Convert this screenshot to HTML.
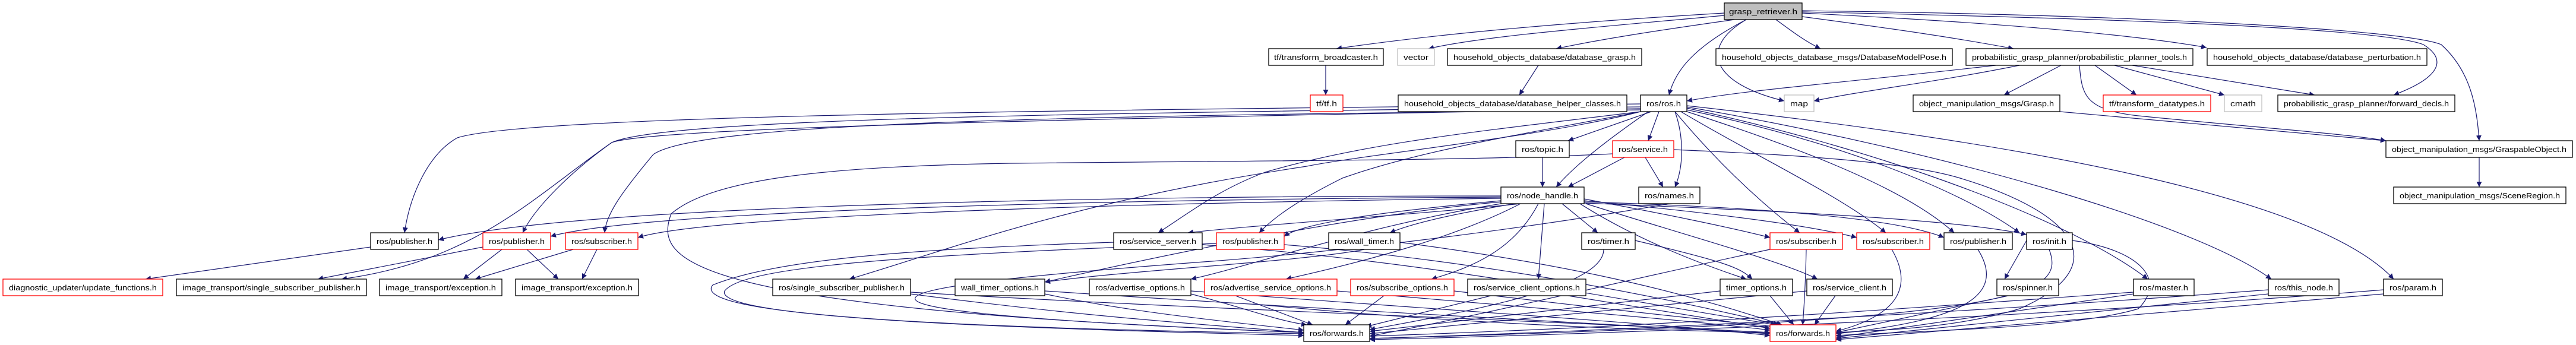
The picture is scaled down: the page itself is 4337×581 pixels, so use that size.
<!DOCTYPE html>
<html><head><meta charset="utf-8"><style>
html,body{margin:0;padding:0;background:#fff;width:4337px;height:581px;overflow:hidden}
svg{display:block}
text{font-family:"Liberation Sans","DejaVu Sans",sans-serif;font-size:13px;fill:#000}
.e{fill:none;stroke:#191970;stroke-width:1.2}
.n{fill:#fff;stroke:#000;stroke-width:1.3}
.r{fill:#fff;stroke:#ff0000;stroke-width:1.3}
.g{fill:#fff;stroke:#bfbfbf;stroke-width:1.3}
</style></head><body>
<svg width="4337" height="581" viewBox="0 0 4337 581" xmlns="http://www.w3.org/2000/svg">
<defs><marker id="a" viewBox="0 0 10 10" refX="10" refY="5" markerWidth="9" markerHeight="9" markerUnits="userSpaceOnUse" orient="auto"><path d="M0,0 L10,5 L0,10 z" fill="#191970"/></marker></defs>
<g class="e" marker-end="url(#a)">
<!-- grasp_retriever -->
<path d="M2903,22 C2600,40 2400,60 2250,82"/>
<path d="M2903,26 C2700,45 2500,60 2405,82"/>
<path d="M2920,33 C2800,50 2700,65 2620,82"/>
<path d="M2940,33 C2850,80 2820,120 2810,160"/>
<path d="M2940,33 C2860,80 2880,140 3004,170"/>
<path d="M2990,33 C3020,55 3040,70 3065,82"/>
<path d="M3034,28 C3200,50 3300,65 3390,82"/>
<path d="M3034,22 C3400,40 3600,60 3715,80"/>
<path d="M3034,20 C3500,30 4000,45 4080,75 C4120,100 4110,130 4030,160"/>
<path d="M3034,18 C3600,25 4050,50 4110,75 C4160,120 4170,180 4174,237"/>
<path d="M2232,110 L2232,160"/>
<path d="M2590,110 L2558,160"/>
<!-- planner tools -->
<path d="M3360,110 C3100,140 2950,150 2840,170"/>
<path d="M3400,110 C3250,140 3150,150 3054,170"/>
<path d="M3470,110 L3374,160"/>
<path d="M3527,110 L3597,160"/>
<path d="M3560,110 L3745,160"/>
<path d="M3590,110 L3897,160"/>
<path d="M3501,110 C3505,160 3510,185 3600,195 C3800,215 3950,225 4017,237"/>
<path d="M3468,188 C3700,210 3900,225 4017,237"/>
<path d="M4174,265 L4174,315"/>
<!-- ros/ros.h -->
<path d="M2762,175 C2000,185 900,190 770,232 C720,260 690,330 681,392"/>
<path d="M2762,180 C1800,190 1120,200 1030,240 C960,290 900,350 880,392"/>
<path d="M2762,185 C1800,195 1180,205 1100,260 C1050,320 1020,360 1018,392"/>
<path d="M2762,183 C1800,200 1100,215 1030,240 C900,330 800,440 575,470"/>
<path d="M2780,188 L2640,237"/>
<path d="M2793,188 L2775,237"/>
<path d="M2775,188 C2700,240 2650,280 2620,315"/>
<path d="M2820,188 C2835,230 2835,280 2820,315"/>
<path d="M2762,188 C2500,220 2300,240 2130,290 C2050,320 2000,360 1950,392"/>
<path d="M2762,188 C2600,220 2400,250 2260,300 C2200,330 2150,360 2120,392"/>
<path d="M2762,188 C2600,230 2300,260 2200,280 C1800,340 1600,420 1430,470"/>
<path d="M2820,188 C2880,260 2950,330 3030,392"/>
<path d="M2830,188 C2950,260 3100,330 3175,392"/>
<path d="M2840,188 C3000,240 3200,310 3290,392"/>
<path d="M2840,185 C3100,240 3300,320 3400,392"/>
<path d="M2840,182 C3200,260 3500,380 3616,470"/>
<path d="M2840,180 C3300,260 3700,380 3824,470"/>
<path d="M2840,178 C3400,240 3900,330 4030,470"/>
<!-- topic / service -->
<path d="M2597,265 L2597,315"/>
<path d="M2735,265 L2640,315"/>
<path d="M2770,265 L2800,315"/>
<path d="M2715,259 C2500,270 2200,270 1700,275 C1400,280 1200,300 1130,360 C1100,440 1150,520 2195,560"/>
<path d="M2818,252 C3000,260 3200,270 3300,300 C3500,360 3560,450 3400,520 C3300,550 3200,555 3091,560"/>
<!-- node_handle -->
<path d="M2527,330 C2000,330 1000,340 738,404"/>
<path d="M2527,332 C2000,335 1100,350 927,398"/>
<path d="M2527,334 C2000,340 1200,360 1074,400"/>
<path d="M2560,343 C2400,360 2100,380 2000,392"/>
<path d="M2527,338 C2400,350 2200,370 2162,398"/>
<path d="M2550,343 C2450,360 2380,375 2340,392"/>
<path d="M2630,343 L2690,392"/>
<path d="M2667,335 C2800,360 2900,380 2980,400"/>
<path d="M2667,338 C2900,360 3050,380 3126,400"/>
<path d="M2667,340 C3000,350 3200,370 3273,400"/>
<path d="M2667,342 C3000,355 3300,370 3412,395"/>
<path d="M2527,340 C2300,360 2000,420 1759,475"/>
<path d="M2527,343 C2300,380 2100,450 2005,470"/>
<path d="M2560,343 C2450,400 2300,440 2165,470"/>
<path d="M2590,343 C2550,420 2480,450 2410,470"/>
<path d="M2600,343 L2590,470"/>
<path d="M2660,343 C2750,400 2850,440 2940,470"/>
<path d="M2670,343 C2850,400 3000,440 3060,470"/>
<path d="M2810,343 C2600,380 2300,420 2040,440 C1500,480 1200,520 2195,560"/>
<!-- row6 children -->
<path d="M624,416 L245,470"/>
<path d="M813,416 L535,470"/>
<path d="M845,420 L780,470"/>
<path d="M887,420 L940,470"/>
<path d="M965,420 L800,470"/>
<path d="M1005,420 L980,470"/>
<path d="M2297,420 C2200,440 1900,455 1759,475"/>
<path d="M2700,420 C2700,480 2500,520 2306,555"/>
<path d="M2753,405 C2900,440 2930,450 2950,470"/>
<path d="M3412,405 L3375,470"/>
<!-- to forwards.h (black) -->
<path d="M1875,408 C1500,420 1300,440 1200,480 C1150,540 1800,555 2195,562"/>
<path d="M2048,410 C1500,430 1250,450 1220,490 C1200,540 1800,555 2195,565"/>
<path d="M1533,495 C1800,530 2000,545 2195,560"/>
<path d="M1759,495 C1900,525 2050,540 2195,556"/>
<path d="M2005,495 C2100,520 2150,540 2200,547"/>
<path d="M2080,498 L2210,547"/>
<path d="M2330,498 L2265,547"/>
<path d="M2510,498 L2300,550"/>
<path d="M2896,490 L2306,558"/>
<path d="M3042,490 L2306,562"/>
<path d="M3592,492 C3200,520 2800,550 2306,566"/>
<path d="M3819,488 C3400,520 2800,555 2306,570"/>
<path d="M4013,488 C3500,530 2800,560 2306,572"/>
<path d="M2980,420 C2700,480 2500,530 2306,566"/>
<path d="M3450,420 C3480,500 3400,540 2306,570"/>
<!-- to forwards.h (red) -->
<path d="M2024,412 C2400,440 2700,500 2990,547"/>
<path d="M2162,412 C2500,440 2800,500 2995,547"/>
<path d="M1533,492 C2000,520 2600,540 2980,560"/>
<path d="M1759,490 C2200,520 2700,545 2980,562"/>
<path d="M2005,490 C2400,520 2800,545 2980,565"/>
<path d="M2251,490 C2600,520 2850,540 2980,556"/>
<path d="M2448,490 C2700,520 2880,540 2990,550"/>
<path d="M2640,498 L2980,553"/>
<path d="M2357,408 C2600,440 2800,480 3000,547"/>
<path d="M2980,498 L3020,547"/>
<path d="M3090,498 L3055,547"/>
<path d="M3185,420 C3220,480 3200,530 3091,558"/>
<path d="M3330,420 C3380,500 3300,540 3091,562"/>
<path d="M3489,405 C3600,420 3650,470 3600,520 C3500,550 3300,555 3091,565"/>
<path d="M3592,495 L3091,568"/>
<path d="M3819,495 L3091,570"/>
<path d="M4013,495 L3091,572"/>
<path d="M3466,480 L3091,560"/>
<path d="M3041,420 C3040,470 3038,510 3035,547"/>
<path d="M2110,512 C2400,540 2700,555 2980,560"/>
</g>
<!-- nodes -->
<g>
<rect x="2903" y="5" width="131" height="28" fill="#bfbfbf" stroke="#000" stroke-width="1.3"/>
<text x="2968.5" y="24" text-anchor="middle" textLength="115" lengthAdjust="spacingAndGlyphs">grasp_retriever.h</text>

<rect class="n" x="2136" y="82" width="193" height="28"/><text x="2232.5" y="101" text-anchor="middle" textLength="175" lengthAdjust="spacingAndGlyphs">tf/transform_broadcaster.h</text>
<rect class="g" x="2353" y="82" width="62" height="28"/><text x="2384" y="101" text-anchor="middle" textLength="42" lengthAdjust="spacingAndGlyphs">vector</text>
<rect class="n" x="2437" y="82" width="327" height="28"/><text x="2600.5" y="101" text-anchor="middle" textLength="307" lengthAdjust="spacingAndGlyphs">household_objects_database/database_grasp.h</text>
<rect class="n" x="2889" y="82" width="398" height="28"/><text x="3088" y="101" text-anchor="middle" textLength="378" lengthAdjust="spacingAndGlyphs">household_objects_database_msgs/DatabaseModelPose.h</text>
<rect class="n" x="3310" y="82" width="382" height="28"/><text x="3501" y="101" text-anchor="middle" textLength="362" lengthAdjust="spacingAndGlyphs">probabilistic_grasp_planner/probabilistic_planner_tools.h</text>
<rect class="n" x="3716" y="82" width="370" height="28"/><text x="3901" y="101" text-anchor="middle" textLength="350" lengthAdjust="spacingAndGlyphs">household_objects_database/database_perturbation.h</text>

<rect class="r" x="2206" y="160" width="55" height="28"/><text x="2233.5" y="179" text-anchor="middle" textLength="35" lengthAdjust="spacingAndGlyphs">tf/tf.h</text>
<rect class="n" x="2354" y="160" width="385" height="28"/><text x="2546.5" y="179" text-anchor="middle" textLength="365" lengthAdjust="spacingAndGlyphs">household_objects_database/database_helper_classes.h</text>
<rect class="n" x="2762" y="160" width="78" height="28"/><text x="2801" y="179" text-anchor="middle" textLength="58" lengthAdjust="spacingAndGlyphs">ros/ros.h</text>
<rect class="g" x="3004" y="160" width="50" height="28"/><text x="3029" y="179" text-anchor="middle" textLength="30" lengthAdjust="spacingAndGlyphs">map</text>
<rect class="n" x="3221" y="160" width="247" height="28"/><text x="3344.5" y="179" text-anchor="middle" textLength="227" lengthAdjust="spacingAndGlyphs">object_manipulation_msgs/Grasp.h</text>
<rect class="r" x="3541" y="160" width="181" height="28"/><text x="3631.5" y="179" text-anchor="middle" textLength="161" lengthAdjust="spacingAndGlyphs">tf/transform_datatypes.h</text>
<rect class="g" x="3745" y="160" width="63" height="28"/><text x="3776.5" y="179" text-anchor="middle" textLength="43" lengthAdjust="spacingAndGlyphs">cmath</text>
<rect class="n" x="3835" y="160" width="298" height="28"/><text x="3984" y="179" text-anchor="middle" textLength="278" lengthAdjust="spacingAndGlyphs">probabilistic_grasp_planner/forward_decls.h</text>

<rect class="n" x="2552" y="237" width="90" height="28"/><text x="2597" y="256" text-anchor="middle" textLength="70" lengthAdjust="spacingAndGlyphs">ros/topic.h</text>
<rect class="r" x="2715" y="237" width="103" height="28"/><text x="2766.5" y="256" text-anchor="middle" textLength="83" lengthAdjust="spacingAndGlyphs">ros/service.h</text>
<rect class="n" x="4017" y="237" width="314" height="28"/><text x="4174" y="256" text-anchor="middle" textLength="294" lengthAdjust="spacingAndGlyphs">object_manipulation_msgs/GraspableObject.h</text>

<rect class="n" x="2527" y="315" width="140" height="28"/><text x="2597" y="334" text-anchor="middle" textLength="120" lengthAdjust="spacingAndGlyphs">ros/node_handle.h</text>
<rect class="n" x="2759" y="315" width="103" height="28"/><text x="2810.5" y="334" text-anchor="middle" textLength="83" lengthAdjust="spacingAndGlyphs">ros/names.h</text>
<rect class="n" x="4030" y="315" width="290" height="28"/><text x="4175" y="334" text-anchor="middle" textLength="270" lengthAdjust="spacingAndGlyphs">object_manipulation_msgs/SceneRegion.h</text>

<rect class="n" x="624" y="392" width="114" height="28"/><text x="681" y="411" text-anchor="middle" textLength="94" lengthAdjust="spacingAndGlyphs">ros/publisher.h</text>
<rect class="r" x="813" y="392" width="114" height="28"/><text x="870" y="411" text-anchor="middle" textLength="94" lengthAdjust="spacingAndGlyphs">ros/publisher.h</text>
<rect class="r" x="952" y="392" width="122" height="28"/><text x="1013" y="411" text-anchor="middle" textLength="102" lengthAdjust="spacingAndGlyphs">ros/subscriber.h</text>
<rect class="n" x="1875" y="392" width="149" height="28"/><text x="1949.5" y="411" text-anchor="middle" textLength="129" lengthAdjust="spacingAndGlyphs">ros/service_server.h</text>
<rect class="r" x="2048" y="392" width="114" height="28"/><text x="2105" y="411" text-anchor="middle" textLength="94" lengthAdjust="spacingAndGlyphs">ros/publisher.h</text>
<rect class="n" x="2237" y="392" width="120" height="28"/><text x="2297" y="411" text-anchor="middle" textLength="100" lengthAdjust="spacingAndGlyphs">ros/wall_timer.h</text>
<rect class="n" x="2663" y="392" width="90" height="28"/><text x="2708" y="411" text-anchor="middle" textLength="70" lengthAdjust="spacingAndGlyphs">ros/timer.h</text>
<rect class="r" x="2980" y="392" width="122" height="28"/><text x="3041" y="411" text-anchor="middle" textLength="102" lengthAdjust="spacingAndGlyphs">ros/subscriber.h</text>
<rect class="r" x="3126" y="392" width="123" height="28"/><text x="3187.5" y="411" text-anchor="middle" textLength="103" lengthAdjust="spacingAndGlyphs">ros/subscriber.h</text>
<rect class="n" x="3273" y="392" width="115" height="28"/><text x="3330.5" y="411" text-anchor="middle" textLength="95" lengthAdjust="spacingAndGlyphs">ros/publisher.h</text>
<rect class="n" x="3412" y="392" width="77" height="28"/><text x="3450.5" y="411" text-anchor="middle" textLength="57" lengthAdjust="spacingAndGlyphs">ros/init.h</text>

<rect class="r" x="5" y="470" width="269" height="28"/><text x="139.5" y="489" text-anchor="middle" textLength="249" lengthAdjust="spacingAndGlyphs">diagnostic_updater/update_functions.h</text>
<rect class="n" x="297" y="470" width="320" height="28"/><text x="457" y="489" text-anchor="middle" textLength="300" lengthAdjust="spacingAndGlyphs">image_transport/single_subscriber_publisher.h</text>
<rect class="n" x="639" y="470" width="206" height="28"/><text x="742" y="489" text-anchor="middle" textLength="186" lengthAdjust="spacingAndGlyphs">image_transport/exception.h</text>
<rect class="n" x="868" y="470" width="207" height="28"/><text x="971.5" y="489" text-anchor="middle" textLength="187" lengthAdjust="spacingAndGlyphs">image_transport/exception.h</text>
<rect class="n" x="1301" y="470" width="232" height="28"/><text x="1417" y="489" text-anchor="middle" textLength="212" lengthAdjust="spacingAndGlyphs">ros/single_subscriber_publisher.h</text>
<rect class="n" x="1608" y="470" width="151" height="28"/><text x="1683.5" y="489" text-anchor="middle" textLength="131" lengthAdjust="spacingAndGlyphs">wall_timer_options.h</text>
<rect class="n" x="1834" y="470" width="171" height="28"/><text x="1919.5" y="489" text-anchor="middle" textLength="151" lengthAdjust="spacingAndGlyphs">ros/advertise_options.h</text>
<rect class="r" x="2028" y="470" width="223" height="28"/><text x="2139.5" y="489" text-anchor="middle" textLength="203" lengthAdjust="spacingAndGlyphs">ros/advertise_service_options.h</text>
<rect class="r" x="2274" y="470" width="174" height="28"/><text x="2361" y="489" text-anchor="middle" textLength="154" lengthAdjust="spacingAndGlyphs">ros/subscribe_options.h</text>
<rect class="n" x="2471" y="470" width="199" height="28"/><text x="2570.5" y="489" text-anchor="middle" textLength="179" lengthAdjust="spacingAndGlyphs">ros/service_client_options.h</text>
<rect class="n" x="2896" y="470" width="122" height="28"/><text x="2957" y="489" text-anchor="middle" textLength="102" lengthAdjust="spacingAndGlyphs">timer_options.h</text>
<rect class="n" x="3042" y="470" width="144" height="28"/><text x="3114" y="489" text-anchor="middle" textLength="124" lengthAdjust="spacingAndGlyphs">ros/service_client.h</text>
<rect class="n" x="3362" y="470" width="104" height="28"/><text x="3414" y="489" text-anchor="middle" textLength="84" lengthAdjust="spacingAndGlyphs">ros/spinner.h</text>
<rect class="n" x="3592" y="470" width="102" height="28"/><text x="3643" y="489" text-anchor="middle" textLength="82" lengthAdjust="spacingAndGlyphs">ros/master.h</text>
<rect class="n" x="3819" y="470" width="119" height="28"/><text x="3878.5" y="489" text-anchor="middle" textLength="99" lengthAdjust="spacingAndGlyphs">ros/this_node.h</text>
<rect class="n" x="4013" y="470" width="99" height="28"/><text x="4062.5" y="489" text-anchor="middle" textLength="79" lengthAdjust="spacingAndGlyphs">ros/param.h</text>

<rect class="n" x="2195" y="547" width="111" height="28"/><text x="2250.5" y="566" text-anchor="middle" textLength="91" lengthAdjust="spacingAndGlyphs">ros/forwards.h</text>
<rect class="r" x="2980" y="547" width="111" height="28"/><text x="3035.5" y="566" text-anchor="middle" textLength="91" lengthAdjust="spacingAndGlyphs">ros/forwards.h</text>
</g>
</svg>
</body></html>
